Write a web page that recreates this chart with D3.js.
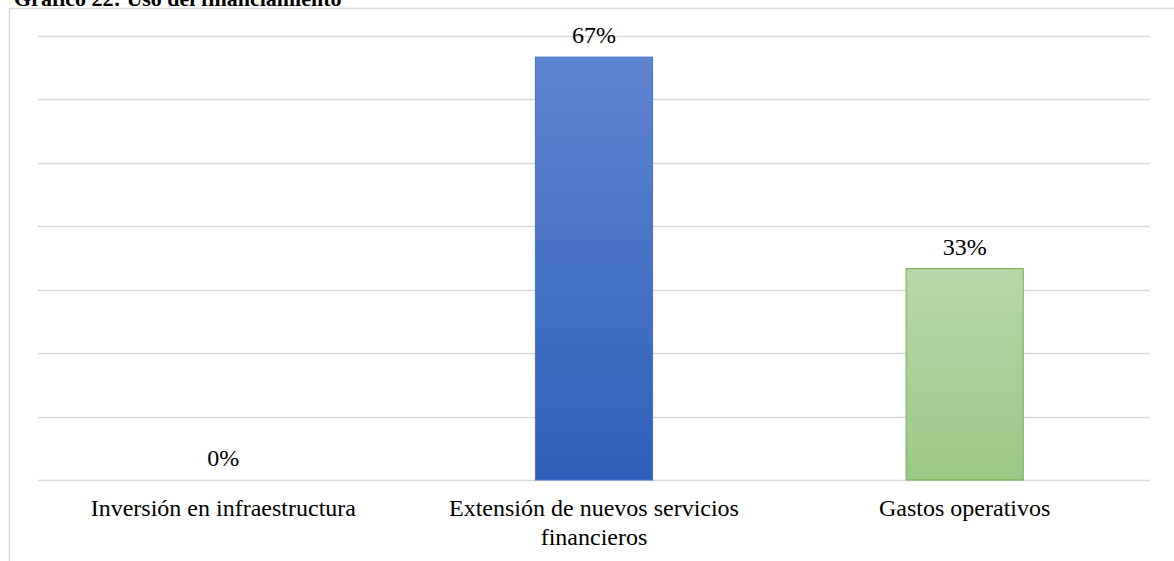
<!DOCTYPE html>
<html>
<head>
<meta charset="utf-8">
<script src="https://cdn.jsdelivr.net/npm/d3@7"></script>
<style>
  body { margin: 0; background: #fff; }
  text { font-family: "Liberation Serif", "DejaVu Serif", serif; }
</style>
</head>
<body>
<script>
  // data
  var categories = ["Inversión en infraestructura", "Extensión de nuevos servicios financieros", "Gastos operativos"];
  var values = [0, 66.67, 33.33];
  var valueLabels = ["0%", "67%", "33%"];
  var tickValues = [0, 10, 20, 30, 40, 50, 60, 70];

  var width = 1174, height = 561;
  var svg = d3.select("body").append("svg")
            .attr("width", width)
            .attr("height", height);

  // title, sits at the very top edge like the source
  svg.append("text")
    .attr("x", 14)
    .attr("y", 6)
    .attr("font-family", "Liberation Serif, serif")
    .attr("font-size", 22)
    .attr("font-weight", "bold")
    .attr("fill", "#000")
    .text("Gráfico  22: Uso del financiamiento");

  // chart frame
  svg.append("path")
    .attr("d", "M9.5," + height + "V8.5H" + width)
    .attr("fill", "none")
    .attr("stroke", "#d9d9d9")
    .attr("stroke-width", 1.5);

  var xScale = d3.scaleBand().domain(categories).range([38, 1150]);
  var yScale = d3.scaleLinear().domain([0, 70]).range([480, 36]);

  // gridlines
  svg.append("g").selectAll("line")
    .data(tickValues)
    .enter()
    .append("line")
    .attr("x1", 38)
    .attr("x2", 1150)
    .attr("y1", function(d){ return Math.round(yScale(d)) + 0.5 })
    .attr("y2", function(d){ return Math.round(yScale(d)) + 0.5 })
    .attr("stroke", "#d9d9d9")
    .attr("stroke-width", 1.5);

  var defs = svg.append("defs");
  var gradBlue = defs.append("linearGradient").attr("id", "gBlue")
    .attr("x1", 0).attr("y1", 0).attr("x2", 0).attr("y2", 1);
  gradBlue.append("stop").attr("offset", "0%").attr("stop-color", "#5d84d0");
  gradBlue.append("stop").attr("offset", "100%").attr("stop-color", "#2f60bb");
  var gradGreen = defs.append("linearGradient").attr("id", "gGreen")
    .attr("x1", 0).attr("y1", 0).attr("x2", 0).attr("y2", 1);
  gradGreen.append("stop").attr("offset", "0%").attr("stop-color", "#b6d7a8");
  gradGreen.append("stop").attr("offset", "100%").attr("stop-color", "#9cc987");

  var fills = ["url(#gBlue)", "url(#gBlue)", "url(#gGreen)"];
  var strokes = ["#4472c4", "#4472c4", "#70ad47"];
  var barW = xScale.bandwidth() * 0.316;

  svg.append("g").selectAll("rect")
    .data(values)
    .enter()
    .append("rect")
    .attr("x", function(d, i){ return xScale(categories[i]) + xScale.bandwidth() / 2 - barW / 2 })
    .attr("y", function(d){ return yScale(d) })
    .attr("width", barW)
    .attr("height", function(d){ return yScale(0) - yScale(d) })
    .attr("fill", function(d, i){ return fills[i] })
    .attr("stroke", function(d, i){ return strokes[i] })
    .attr("stroke-width", function(d){ return d > 0 ? 1 : 0 });

  // value labels
  svg.append("g").selectAll("text")
    .data(values)
    .enter()
    .append("text")
    .attr("x", function(d, i){ return xScale(categories[i]) + xScale.bandwidth() / 2 })
    .attr("y", function(d){ return yScale(d) - 14 })
    .attr("text-anchor", "middle")
    .attr("font-family", "Liberation Serif, serif")
    .attr("font-size", 24)
    .attr("fill", "#000")
    .text(function(d, i){ return valueLabels[i] });

  // category labels, wrapped
  var lines = [["Inversión en infraestructura"], ["Extensión de nuevos servicios", "financieros"], ["Gastos operativos"]];
  var cat = svg.append("g").selectAll("text")
    .data(categories)
    .enter()
    .append("text")
    .attr("x", function(d){ return xScale(d) + xScale.bandwidth() / 2 })
    .attr("y", 516)
    .attr("text-anchor", "middle")
    .attr("font-family", "Liberation Serif, serif")
    .attr("font-size", 24)
    .attr("fill", "#000");
  cat.each(function(d, i){
    var t = d3.select(this);
    lines[i].forEach(function(l, j){
      t.append("tspan")
        .attr("x", xScale(d) + xScale.bandwidth() / 2)
        .attr("dy", j == 0 ? 0 : 29)
        .text(l);
    });
  });
</script>
</body>
</html>
